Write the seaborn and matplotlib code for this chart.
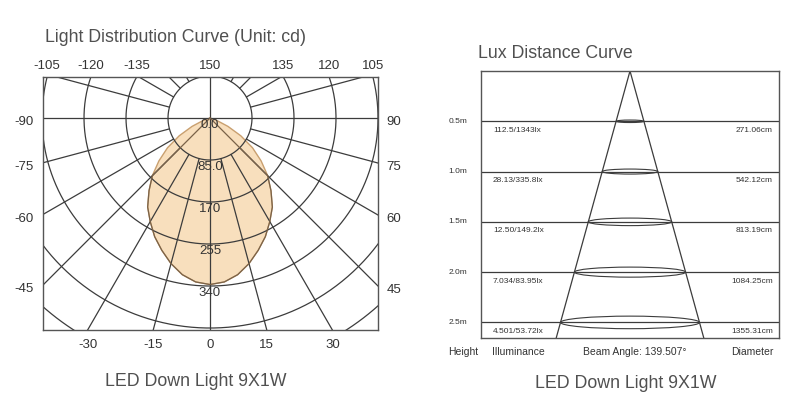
import numpy as np
import matplotlib
matplotlib.use("Agg")
import matplotlib.pyplot as plt
from matplotlib.patches import Ellipse
import seaborn as sns

# light distribution curve (cd), angle measured from nadir, mirrored left/right
angles = [0, 5, 10, 15, 20, 25, 30, 35, 40, 45, 50, 55, 60, 65, 70, 75, 80, 85, 90]
c0_cd = [337, 333, 322, 305, 285, 265, 242, 220, 192, 165, 135, 105, 72, 40, 15, 0, 0, 0, 0]
c90_cd = [337, 333, 322, 305, 285, 265, 242, 220, 192, 165, 0, 0, 0, 0, 0, 0, 0, 0, 0]
ring_cd = [85, 170, 255, 340, 425, 510]
ring_labels = ["0.0", "85.0", "170", "255", "340"]
bottom_labels = [-30, -15, 0, 15, 30]
left_labels = [-90, -75, -60, -45]
right_labels = [90, 75, 60, 45]
top_labels = [-105, -120, -135, 150, 135, 120, 105]

# lux distance curve
heights = [0.5, 1.0, 1.5, 2.0, 2.5]
height_labels = ["0.5m", "1.0m", "1.5m", "2.0m", "2.5m"]
illum_labels = ["112.5/1343lx", "28.13/335.8lx", "12.50/149.2lx", "7.034/83.95lx", "4.501/53.72lx"]
diam_cm = [271.06, 542.12, 813.19, 1084.25, 1355.31]
beam_angle = 139.507

sns.set_theme(style="white")
plt.rcParams["font.family"] = ["Liberation Sans", "DejaVu Sans"]

GRID = "#3c3c3c"
TXT = "#333333"
TITLE = "#505050"

fig = plt.figure(figsize=(8, 4.04), dpi=100)

# ---------------- left: polar light distribution ----------------
ax = fig.add_axes([43 / 800, 74 / 404, 335 / 800, 253 / 404])
XL, XR, YB, YT = -338, 340, -429, 83
ax.set_xlim(XL, XR)
ax.set_ylim(YB, YT)
ax.set_xticks([])
ax.set_yticks([])
for s in ax.spines.values():
    s.set_color("#555555")
    s.set_linewidth(1.0)

a = np.deg2rad(np.array(angles, dtype=float))
th = np.concatenate([-a[::-1], a[1:]])
i0 = np.concatenate([np.array(c0_cd)[::-1], np.array(c0_cd)[1:]])
i90 = np.concatenate([np.array(c90_cd)[::-1], np.array(c90_cd)[1:]])

ax.fill(i0 * np.sin(th), -i0 * np.cos(th), color="#f8dfbd", ec="#c9a070", lw=1.0, zorder=1)
sns.lineplot(x=i90 * np.sin(th), y=-i90 * np.cos(th), sort=False, estimator=None,
             color="#7a6248", lw=0.9, ax=ax, zorder=3)

t = np.linspace(0, 2 * np.pi, 721)
for r in ring_cd:
    ax.plot(r * np.sin(t), r * np.cos(t), color=GRID, lw=0.9, zorder=2)
for deg in range(0, 360, 15):
    if deg % 90 == 0:
        continue
    rad = np.deg2rad(deg)
    ax.plot([85 * np.sin(rad), 900 * np.sin(rad)], [-85 * np.cos(rad), -900 * np.cos(rad)],
            color=GRID, lw=0.9, zorder=2)
ax.axvline(0, color=GRID, lw=0.9, zorder=2)
ax.axhline(0, color=GRID, lw=0.9, zorder=2)

# radial value labels
for r, lab in zip([0] + ring_cd[:4], ring_labels):
    ax.text(0, -r - 14, lab, ha="center", va="center", fontsize=9.5, color=TXT, zorder=4)

# angle labels along the frame
for v in bottom_labels:
    x = -YB * np.tan(np.deg2rad(v))
    ax.text(x, YB - 30, str(v), ha="center", va="center", fontsize=9.5, color=TXT, clip_on=False)
for v in left_labels:
    rad = np.deg2rad(abs(v))
    y = XL * np.cos(rad) / np.sin(rad) - 9
    ax.text(XL - 18, y, str(v), ha="right", va="center", fontsize=9.5, color=TXT, clip_on=False)
for v in right_labels:
    rad = np.deg2rad(v)
    y = -XR * np.cos(rad) / np.sin(rad) - 9
    ax.text(XR + 17, y, str(v), ha="left", va="center", fontsize=9.5, color=TXT, clip_on=False)
top_x = [-np.sqrt(r ** 2 - YT ** 2) for r in ring_cd[3:0:-1]] + [0] + \
        [np.sqrt(r ** 2 - YT ** 2) for r in ring_cd[1:4]]
for x, v in zip(top_x, top_labels):
    ax.text(x, YT + 22, str(v), ha="center", va="center", fontsize=9.5, color=TXT, clip_on=False)

fig.text(45 / 800, 1 - 37 / 404, "Light Distribution Curve (Unit: cd)", fontsize=12.8,
         color=TITLE, ha="left", va="center")
fig.text(196 / 800, 1 - 382 / 404, "LED Down Light 9X1W", fontsize=12.8,
         color=TITLE, ha="center", va="center")

# ---------------- right: lux distance curve ----------------
bx = fig.add_axes([481 / 800, 66 / 404, 298 / 800, 267 / 404])
half = 1453
ybot = 2.655
bx.set_xlim(-half, half)
bx.set_ylim(ybot, 0)
bx.set_xticks([])
bx.set_yticks([])
for s in bx.spines.values():
    s.set_color("#555555")
    s.set_linewidth(1.0)

bx.hlines(heights, -half, half, color=GRID, lw=0.9)
slope = diam_cm[-1] / 2 / heights[-1]
for sgn in (-1, 1):
    bx.plot([0, sgn * slope * ybot], [0, ybot], color=GRID, lw=0.9)
for h, d in zip(heights, diam_cm):
    bx.add_patch(Ellipse((0, h), width=d, height=0.05 * h, fill=False, ec=GRID, lw=0.8))

ytr = bx.get_yaxis_transform()
for h, hl, il, d in zip(heights, height_labels, illum_labels, diam_cm):
    bx.text(-0.045, h, hl, transform=ytr, ha="right", va="center", fontsize=6, color=TXT)
    bx.text(0.04, h + 0.09, il, transform=ytr, ha="left", va="center", fontsize=6, color=TXT)
    bx.text(0.98, h + 0.09, f"{d:.2f}cm", transform=ytr, ha="right", va="center", fontsize=6, color=TXT)

bx.text(-0.111, -0.051, "Height", transform=bx.transAxes, ha="left", va="center", fontsize=7.5, color=TXT)
bx.text(0.037, -0.051, "Illuminance", transform=bx.transAxes, ha="left", va="center", fontsize=7.5, color=TXT)
bx.text(0.517, -0.051, f"Beam Angle: {beam_angle:.3f}°", transform=bx.transAxes,
        ha="center", va="center", fontsize=7.5, color=TXT)
bx.text(0.98, -0.051, "Diameter", transform=bx.transAxes, ha="right", va="center", fontsize=7.5, color=TXT)

fig.text(478 / 800, 1 - 54 / 404, "Lux Distance Curve", fontsize=12.8,
         color=TITLE, ha="left", va="center")
fig.text(626 / 800, 1 - 383 / 404, "LED Down Light 9X1W", fontsize=12.8,
         color=TITLE, ha="center", va="center")

fig.savefig("out.png", dpi=100, facecolor="white")
